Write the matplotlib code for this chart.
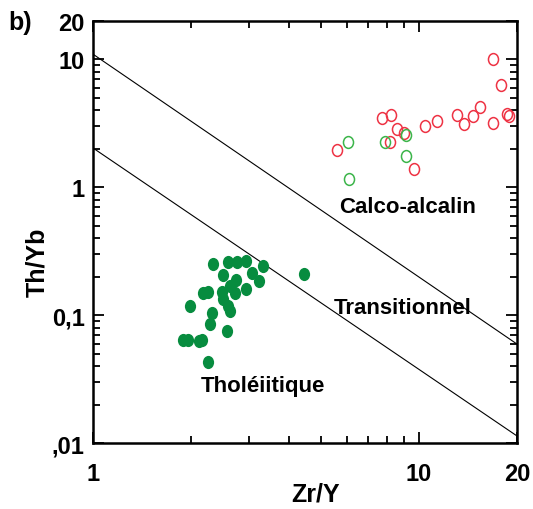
import matplotlib
matplotlib.use('Agg')
import matplotlib.pyplot as plt
import numpy as np
from matplotlib.path import Path
from matplotlib.transforms import Affine2D
from matplotlib.ticker import FixedLocator, FixedFormatter, NullFormatter

plt.rcParams['font.family'] = ['Liberation Sans Narrow', 'Liberation Sans', 'DejaVu Sans']
plt.rcParams['font.weight'] = 'bold'

# Tholeiitiques (points pleins verts)
tho_zr_y = [2.33, 2.60, 2.76, 2.94, 3.33, 4.45, 2.51, 3.07, 2.75, 3.24, 2.63, 2.95, 2.17, 2.26,
            2.48, 2.73, 2.51, 1.98, 2.60, 2.63, 2.31, 2.29, 2.57, 1.89, 1.96, 2.12, 2.16, 2.26]
tho_th_yb = [0.250, 0.259, 0.262, 0.267, 0.241, 0.210, 0.206, 0.214, 0.189, 0.186, 0.170, 0.160, 0.148, 0.153,
             0.151, 0.148, 0.134, 0.119, 0.119, 0.108, 0.104, 0.085, 0.075, 0.064, 0.064, 0.0625, 0.064, 0.043]

# Calco-alcalins (cercles rouges)
ca_zr_y = [5.60, 7.72, 8.21, 8.55, 9.00, 8.15, 9.68, 10.44, 11.39, 13.06, 13.78, 14.63, 15.40,
           16.92, 16.85, 17.86, 18.67, 18.94]
ca_th_yb = [1.97, 3.48, 3.68, 2.86, 2.65, 2.27, 1.39, 3.03, 3.28, 3.70, 3.13, 3.61, 4.22,
            10.1, 3.17, 6.35, 3.74, 3.59]

# Cercles verts
cv_zr_y = [6.07, 7.87, 9.11, 9.11, 6.12]
cv_th_yb = [2.25, 2.27, 2.57, 1.77, 1.16]

# Limites des champs
lim_x = [1, 20]
lim_haut = [11.0, 0.0594]
lim_bas = [2.03, 0.01135]

x_ticks = [1, 10, 20]
x_labels = ['1', '10', '20']
y_ticks = [0.01, 0.1, 1, 10, 20]
y_labels = [',01', '0,1', '1', '10', '20']

# marqueur un peu ovale comme sur l'original
ovale = Path.unit_circle().transformed(Affine2D().scale(0.85, 1.0))

fig = plt.figure(figsize=(5.33, 5.10), dpi=100)
ax = fig.add_axes([0.1745, 0.1294, 0.7955, 0.8275])

ax.plot(lim_x, lim_haut, color='black', lw=0.8)
ax.plot(lim_x, lim_bas, color='black', lw=0.8)

ax.plot(tho_zr_y, tho_th_yb, linestyle='none', marker=ovale, markersize=9.5,
        color='#078c3f', markeredgewidth=0)
ax.plot(ca_zr_y, ca_th_yb, linestyle='none', marker=ovale, markersize=8.5,
        markerfacecolor='none', markeredgecolor='#ee3344', markeredgewidth=1.1)
ax.plot(cv_zr_y, cv_th_yb, linestyle='none', marker=ovale, markersize=8.5,
        markerfacecolor='none', markeredgecolor='#3cb54a', markeredgewidth=1.1)

ax.set_xscale('log')
ax.set_yscale('log')
ax.set_xlim(1, 20)
ax.set_ylim(0.01, 20)

ax.xaxis.set_major_locator(FixedLocator(x_ticks))
ax.xaxis.set_major_formatter(FixedFormatter(x_labels))
ax.xaxis.set_minor_locator(FixedLocator([2, 3, 4, 5, 6, 7, 8, 9]))
ax.xaxis.set_minor_formatter(NullFormatter())
ax.yaxis.set_major_locator(FixedLocator(y_ticks))
ax.yaxis.set_major_formatter(FixedFormatter(y_labels))
mins = [m * d for d in [0.01, 0.1, 1] for m in range(2, 10)]
ax.yaxis.set_minor_locator(FixedLocator(mins))
ax.yaxis.set_minor_formatter(NullFormatter())

ax.tick_params(which='both', direction='in', top=True, right=True, width=1.3)
ax.tick_params(which='major', length=8, labelsize=17)
ax.tick_params(which='minor', length=5)
ax.tick_params(axis='x', which='major', pad=14)
ax.tick_params(axis='y', which='major', pad=6)
for s in ax.spines.values():
    s.set_linewidth(1.8)

ax.set_xlabel('Zr/Y', fontsize=18, fontweight='bold', labelpad=-3, x=0.524)
ax.set_ylabel('Th/Yb', fontsize=18, fontweight='bold', labelpad=2, y=0.43)

ax.text(9.26, 0.714, 'Calco-alcalin', fontsize=16, ha='center', va='center')
ax.text(8.94, 0.114, 'Transitionnel', fontsize=16, ha='center', va='center')
ax.text(3.32, 0.0284, 'Tholéiitique', fontsize=16, ha='center', va='center')
fig.text(0.015, 0.955, 'b)', fontsize=18, fontweight='bold', ha='left', va='center')

fig.savefig('out.png', dpi=100)
